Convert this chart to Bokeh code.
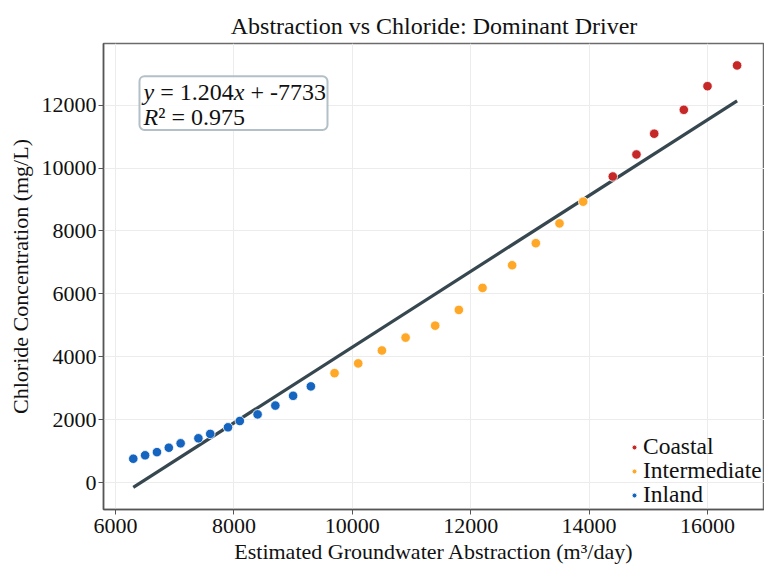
from bokeh.plotting import figure
from bokeh.models import Legend, LegendItem, Label, BoxAnnotation, Range1d
from bokeh.embed import file_html
from bokeh.resources import INLINE

# ---- data ----
inland_x = [6300, 6500, 6700, 6900, 7100, 7400, 7600, 7900, 8100, 8400, 8700, 9000, 9300]
inland_y = [760, 870, 970, 1110, 1250, 1410, 1550, 1760, 1960, 2170, 2450, 2760, 3060]
inter_x = [9700, 10100, 10500, 10900, 11400, 11800, 12200, 12700, 13100, 13500, 13900]
inter_y = [3480, 3790, 4200, 4610, 4990, 5490, 6190, 6910, 7610, 8240, 8930]
coastal_x = [14400, 14800, 15100, 15600, 16000, 16500]
coastal_y = [9730, 10430, 11090, 11850, 12600, 13260]
slope = 1.204
intercept = -7733
r2 = 0.975
x_ticks = [6000, 8000, 10000, 12000, 14000, 16000]
y_ticks = [0, 2000, 4000, 6000, 8000, 10000, 12000]
series_names = ["Coastal", "Intermediate", "Inland"]

FONT = "Liberation Serif"

p = figure(width=764, height=566, output_backend="svg", toolbar_location=None,
           title="Abstraction vs Chloride: Dominant Driver",
           x_range=Range1d(5797, 16963), y_range=Range1d(-853, 13957),
           min_border_left=103, min_border_top=43, min_border_bottom=54, min_border_right=0)

p.title.text_font = FONT
p.title.text_font_size = "24px"
p.title.text_font_style = "normal"
p.title.align = "center"
p.title.text_color = "#111111"
p.title.offset = -4

p.outline_line_color = "#6b6b6b"
p.outline_line_width = 1.5
p.background_fill_color = "white"
p.border_fill_color = "white"

for ax in (p.xaxis[0], p.yaxis[0]):
    ax.axis_label_text_font = FONT
    ax.axis_label_text_font_size = "22px"
    ax.axis_label_text_font_style = "normal"
    ax.axis_label_text_color = "#111111"
    ax.major_label_text_font = FONT
    ax.major_label_text_font_size = "22px"
    ax.major_label_text_color = "#111111"
    ax.axis_line_color = "#555555"
    ax.axis_line_width = 1.5
    ax.major_tick_line_color = "#555555"
    ax.major_tick_out = 5
    ax.major_tick_in = 0
    ax.minor_tick_line_color = None

p.xaxis.axis_label = "Estimated Groundwater Abstraction (m³/day)"
p.yaxis.axis_label = "Chloride Concentration (mg/L)"
p.xaxis.ticker = x_ticks
p.yaxis.ticker = y_ticks
p.xaxis.major_label_standoff = 4
p.yaxis.major_label_standoff = 2
p.xaxis.axis_label_standoff = 3
p.yaxis.axis_label_standoff = 6

p.xgrid.grid_line_color = "#ececec"
p.ygrid.grid_line_color = "#ececec"
p.xgrid.ticker = x_ticks
p.ygrid.ticker = y_ticks

# regression line
x_all = inland_x + inter_x + coastal_x
fx = [min(x_all), max(x_all)]
fy = [slope * v + intercept for v in fx]
p.line(fx, fy, line_color="#37474f", line_width=3.2)

r_in = p.scatter(inland_x, inland_y, size=9.5, fill_color="#1565c0", line_color="white", line_width=0.8)
r_mid = p.scatter(inter_x, inter_y, size=9.5, fill_color="#ffa726", line_color="white", line_width=0.8)
r_co = p.scatter(coastal_x, coastal_y, size=9.5, fill_color="#c62828", line_color="white", line_width=0.8)

# legend: one row per Legend so the row pitch can match the reference
for i, (name, rend) in enumerate(zip(series_names, [r_co, r_mid, r_in])):
    lg = Legend(items=[LegendItem(label=name, renderers=[rend])],
                location=(525, 49 - 24 * i))
    lg.label_text_font = FONT
    lg.label_text_font_size = "23.5px"
    lg.label_text_color = "#111111"
    lg.background_fill_alpha = 0
    lg.border_line_color = None
    lg.glyph_width = 12
    lg.glyph_height = 16
    lg.label_standoff = 3
    lg.spacing = 0
    lg.padding = 0
    lg.margin = 0
    lg.label_height = 24
    p.add_layout(lg)

# equation box
box = BoxAnnotation(left=6405, right=9581, bottom=11209, top=12914,
                    fill_color="white", fill_alpha=0.88,
                    line_color="#b3c0c8", line_alpha=1.0, line_width=2, border_radius=5)
p.add_layout(box)

EQ = "24px"
ax0 = 6473
y1 = 12400
y2 = 11610
pieces = [
    ("y", 0, y1, "italic"),
    ("= %.3f" % slope, 16.7, y1, "normal"),
    ("x", 90.2, y1, "italic"),
    ("+ %d" % intercept, 106.9, y1, "normal"),
    ("R", 0, y2, "italic"),
    ("² = %.3f" % r2, 14.7, y2, "normal"),
]
for txt, off, yy, style in pieces:
    p.add_layout(Label(x=ax0, y=yy, x_offset=off, text=txt, text_font=FONT,
                       text_font_size=EQ, text_font_style=style, text_color="#111111",
                       text_baseline="alphabetic", text_align="left"))

open("out.html", "w").write(file_html(p, INLINE))
